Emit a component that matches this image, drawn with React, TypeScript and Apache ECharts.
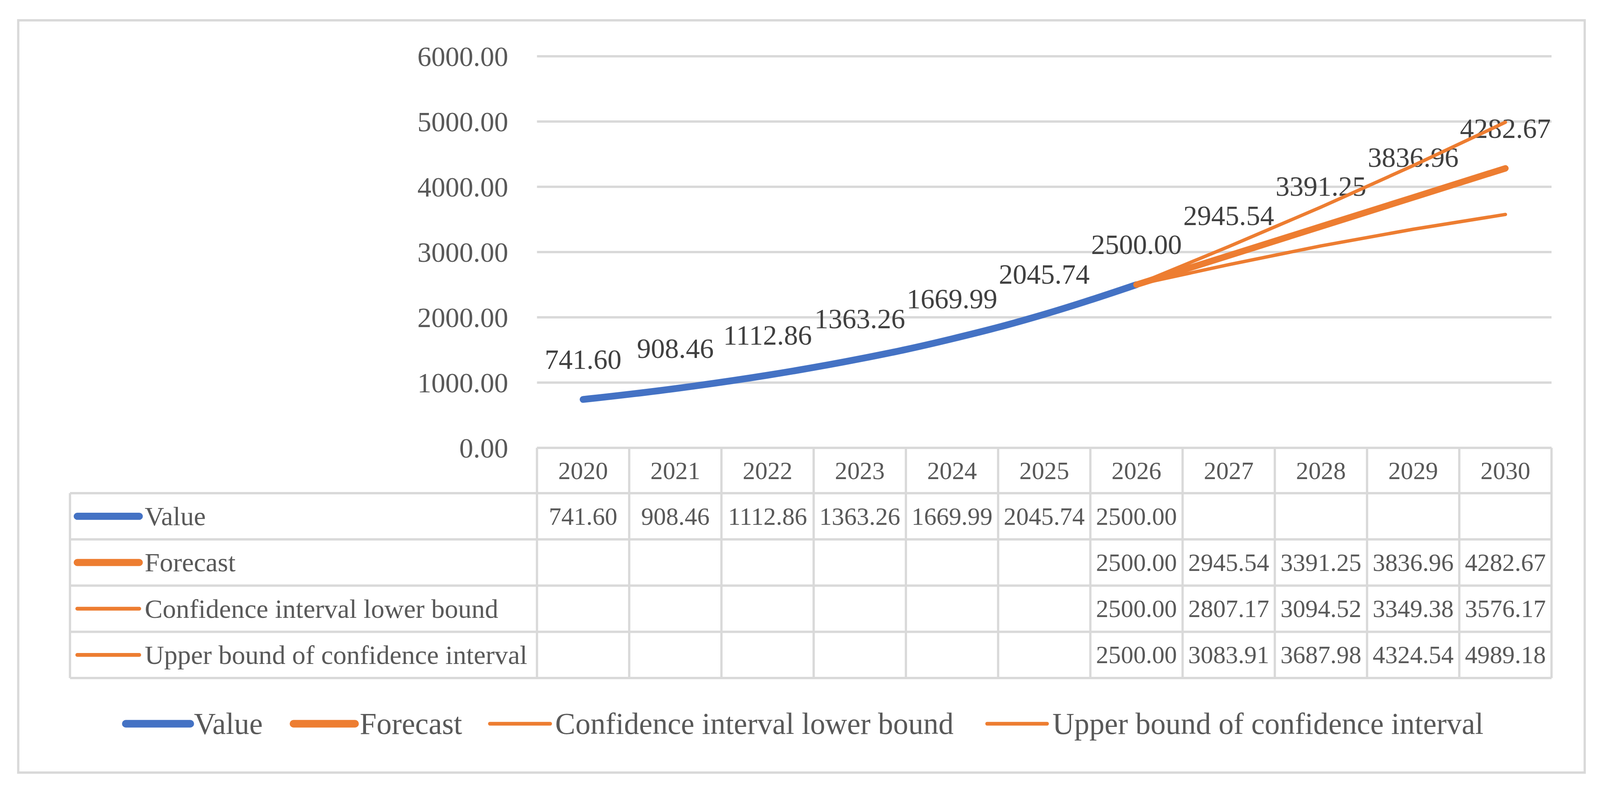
import React, { useEffect, useRef } from "react";
import * as echarts from "echarts";

// ---------- data ----------
const years = ["2020", "2021", "2022", "2023", "2024", "2025", "2026", "2027", "2028", "2029", "2030"];
const valueSeries = [741.6, 908.46, 1112.86, 1363.26, 1669.99, 2045.74, 2500.0, null, null, null, null];
const forecastSeries = [null, null, null, null, null, null, 2500.0, 2945.54, 3391.25, 3836.96, 4282.67];
const lowerSeries = [null, null, null, null, null, null, 2500.0, 2807.17, 3094.52, 3349.38, 3576.17];
const upperSeries = [null, null, null, null, null, null, 2500.0, 3083.91, 3687.98, 4324.54, 4989.18];
const seriesNames = [
  "Value",
  "Forecast",
  "Confidence interval lower bound",
  "Upper bound of confidence interval",
];
const yMin = 0;
const yMax = 6000;
const yInterval = 1000;

// ---------- style / layout (in reference pixels, 4389 x 2019) ----------
const W = 4389;
const H = 2019;
const FONT = "'Liberation Serif', 'Times New Roman', serif";
const GRID = "#D9D9D9";
const TEXT = "#595959";
const LABEL = "#404040";
const BLUE = "#4472C4";
const ORANGE = "#ED7D31";

const PLOT_L = 1473;
const PLOT_R = 4256;
const PLOT_T = 144;
const PLOT_B = 1146;
const TABLE_L = 192;
const HEADER_B = 1262;
const ROW_H = 118.25;

const seriesColors = [BLUE, ORANGE, ORANGE, ORANGE];
const seriesWidths = [18, 17, 9, 9];
const tableIconWidths = [19, 19, 10, 10];
const legendIconWidths = [20, 20, 10, 10];
const legendLineX = [
  [345, 522],
  [805, 974],
  [1344, 1509],
  [2708, 2872],
];
const legendTextX = [532, 987, 1523, 2887];
const LEGEND_Y = 1852;

const fmt = (v: number) => v.toFixed(2);

export default function App() {
  const ref = useRef<HTMLDivElement>(null);
  const vw = typeof window !== "undefined" ? window.innerWidth || W : W;
  const vh = typeof window !== "undefined" ? window.innerHeight || H : H;
  const sx = Math.min(vw / W, 1.5);
  const sy = Math.min(vh / H, 1.5);
  const fs = (sx + sy) / 2;
  const CW = Math.round(W * sx);
  const CH = Math.round(H * sy);

  useEffect(() => {
    if (!ref.current) return;
    const X = (v: number) => v * sx;
    const Y = (v: number) => v * sy;
    const F = (v: number) => v * fs;
    const chart = echarts.init(ref.current, null, { renderer: "svg", width: CW, height: CH });

    const allSeries = [valueSeries, forecastSeries, lowerSeries, upperSeries];
    const n = years.length;
    const colW = (PLOT_R - PLOT_L) / n;
    const colX = (i: number) => PLOT_L + (i + 0.5) * colW;
    const rowY = (r: number) => HEADER_B + r * ROW_H;
    const tableB = rowY(allSeries.length);

    const g: any[] = [];
    const hline = (x1: number, y: number, x2: number) =>
      g.push({
        type: "line",
        silent: true,
        shape: { x1: X(x1), y1: Y(y), x2: X(x2), y2: Y(y) },
        style: { stroke: GRID, lineWidth: F(6) },
      });
    const vline = (x: number, y1: number, y2: number) =>
      g.push({
        type: "line",
        silent: true,
        shape: { x1: X(x), y1: Y(y1), x2: X(x), y2: Y(y2) },
        style: { stroke: GRID, lineWidth: F(6) },
      });
    const text = (t: string, x: number, y: number, size: number, align: string) =>
      g.push({
        type: "text",
        silent: true,
        style: {
          text: t,
          x: X(x),
          y: Y(y),
          fill: TEXT,
          fontSize: F(size),
          fontFamily: FONT,
          align,
          verticalAlign: "middle",
          textAlign: align,
          textVerticalAlign: "middle",
        },
      });
    const icon = (x1: number, x2: number, y: number, color: string, w: number) =>
      g.push({
        type: "line",
        silent: true,
        shape: { x1: X(x1), y1: Y(y), x2: X(x2), y2: Y(y) },
        style: { stroke: color, lineWidth: F(w), lineCap: "round" },
      });

    // outer frame
    g.push({
      type: "rect",
      silent: true,
      shape: { x: X(50), y: Y(52), width: X(4297), height: Y(1925) },
      style: { fill: "none", stroke: GRID, lineWidth: F(6) },
    });
    // data table grid
    hline(PLOT_L, PLOT_B, PLOT_R);
    for (let r = 0; r <= allSeries.length; r++) hline(TABLE_L, rowY(r), PLOT_R);
    vline(TABLE_L, HEADER_B, tableB);
    for (let k = 0; k <= n; k++) vline(PLOT_L + k * colW, PLOT_B, tableB);
    // header (categories)
    years.forEach((y, i) => text(y, colX(i), (PLOT_B + HEADER_B) / 2, 66, "center"));
    // rows
    allSeries.forEach((data, r) => {
      const cy = (rowY(r) + rowY(r + 1)) / 2;
      icon(212, 382, cy, seriesColors[r], tableIconWidths[r]);
      text(seriesNames[r], 397, cy, 71, "left");
      data.forEach((v, i) => {
        if (v == null) return;
        text(fmt(v as number), colX(i), cy, 66, "center");
      });
    });
    // legend
    seriesNames.forEach((name, i) => {
      icon(legendLineX[i][0], legendLineX[i][1], LEGEND_Y, seriesColors[i], legendIconWidths[i]);
      text(name, legendTextX[i], LEGEND_Y, 80, "left");
    });

    const labelCfg = {
      show: true,
      position: "top",
      distance: Y(66),
      fontSize: F(74),
      lineHeight: F(74),
      fontFamily: FONT,
      color: LABEL,
      formatter: (p: any) => fmt(Number(p.value)),
    };

    const forecastData = forecastSeries.map((v, i) =>
      v != null && valueSeries[i] != null ? { value: v, label: { show: false } } : v
    );

    const lineSeries = (idx: number, data: any[], extra: any) => ({
      name: seriesNames[idx],
      type: "line",
      data,
      symbol: "circle",
      symbolSize: F(2),
      showSymbol: true,
      connectNulls: false,
      lineStyle: { color: seriesColors[idx], width: F(seriesWidths[idx]), cap: "round", join: "round" },
      itemStyle: { color: seriesColors[idx] },
      emphasis: { disabled: true },
      ...extra,
    });

    const option: any = {
      animation: false,
      backgroundColor: "#FFFFFF",
      textStyle: { fontFamily: FONT },
      grid: {
        left: X(PLOT_L),
        right: X(W - PLOT_R),
        top: Y(PLOT_T),
        bottom: Y(H - PLOT_B),
        containLabel: false,
      },
      xAxis: {
        type: "category",
        data: years,
        boundaryGap: true,
        axisLine: { show: false },
        axisTick: { show: false },
        axisLabel: { show: false },
        splitLine: { show: false },
      },
      yAxis: {
        type: "value",
        min: yMin,
        max: yMax,
        interval: yInterval,
        axisLine: { show: false },
        axisTick: { show: false },
        axisLabel: {
          formatter: (v: number) => fmt(v),
          fontSize: F(74),
          fontFamily: FONT,
          color: TEXT,
          margin: X(79),
        },
        splitLine: { show: true, lineStyle: { color: GRID, width: F(6) } },
      },
      series: [
        lineSeries(0, valueSeries, { smooth: 0.4, label: labelCfg, z: 2 }),
        lineSeries(1, forecastData, { label: labelCfg, z: 3 }),
        lineSeries(2, lowerSeries, { label: { show: false }, z: 4 }),
        lineSeries(3, upperSeries, { label: { show: false }, z: 4 }),
      ],
      graphic: g,
    };

    chart.setOption(option);
    return () => chart.dispose();
  }, [sx, sy]);

  return (
    <div
      ref={ref}
      style={{
        position: "fixed",
        left: 0,
        top: 0,
        width: CW,
        height: CH,
        overflow: "hidden",
        background: "#fff",
      }}
    />
  );
}
